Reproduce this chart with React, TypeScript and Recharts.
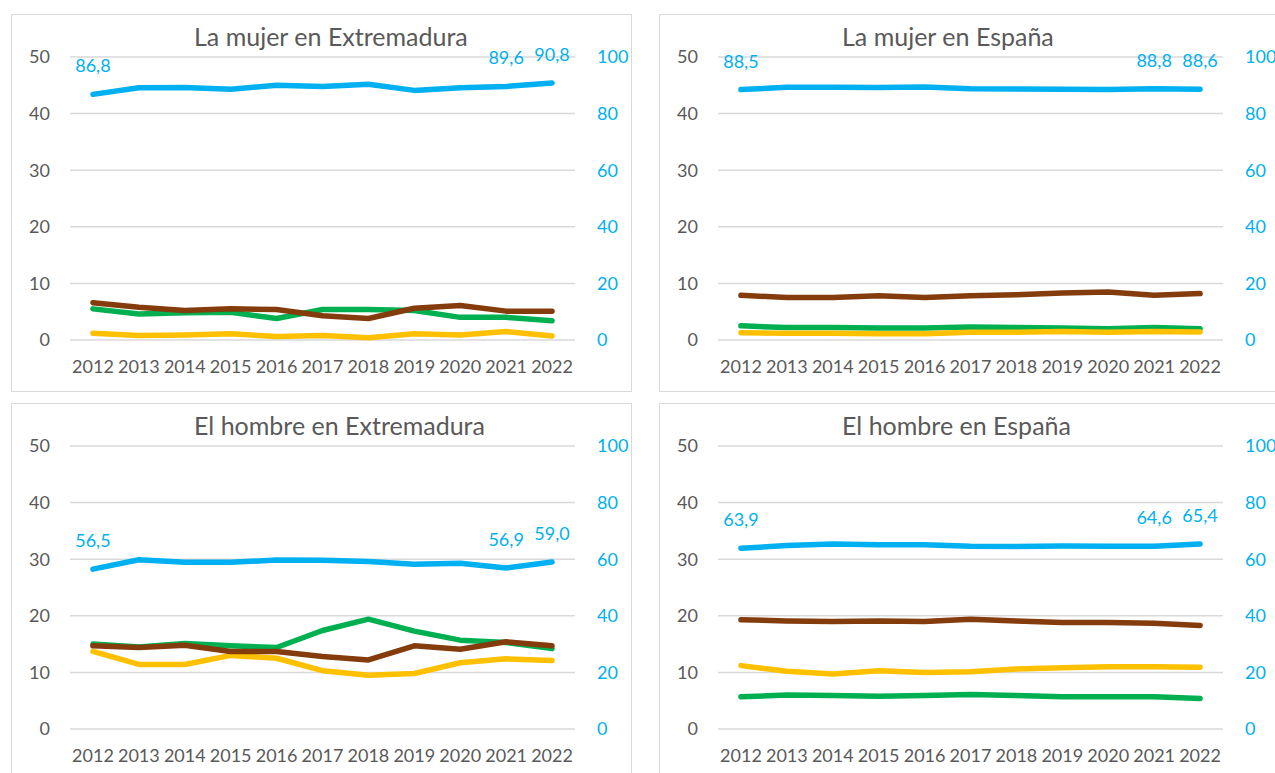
import { CartesianGrid, LabelList, Line, LineChart, XAxis, YAxis } from "recharts";

const YEARS = [2012, 2013, 2014, 2015, 2016, 2017, 2018, 2019, 2020, 2021, 2022];
const LABELED_YEARS = [2012, 2021, 2022];
const LEFT_TICKS = [0, 10, 20, 30, 40, 50];
const RIGHT_TICKS = [0, 20, 40, 60, 80, 100];

// La mujer en Extremadura
const MUJER_EXT_BLUE = [86.8, 89.1, 89.2, 88.6, 90.0, 89.6, 90.4, 88.2, 89.1, 89.6, 90.8];
const MUJER_EXT_BROWN = [6.6, 5.8, 5.2, 5.5, 5.4, 4.3, 3.8, 5.6, 6.1, 5.1, 5.1];
const MUJER_EXT_GREEN = [5.5, 4.6, 4.8, 4.9, 3.8, 5.4, 5.4, 5.2, 4.0, 4.0, 3.4];
const MUJER_EXT_YELLOW = [1.2, 0.8, 0.9, 1.1, 0.6, 0.8, 0.4, 1.1, 0.9, 1.5, 0.7];

// La mujer en España
const MUJER_ESP_BLUE = [88.5, 89.3, 89.3, 89.2, 89.4, 88.8, 88.7, 88.6, 88.5, 88.8, 88.6];
const MUJER_ESP_BROWN = [7.9, 7.5, 7.5, 7.8, 7.5, 7.8, 8.0, 8.3, 8.5, 7.9, 8.2];
const MUJER_ESP_GREEN = [2.5, 2.2, 2.2, 2.1, 2.1, 2.3, 2.2, 2.1, 2.0, 2.2, 2.0];
const MUJER_ESP_YELLOW = [1.3, 1.2, 1.2, 1.1, 1.1, 1.35, 1.35, 1.5, 1.35, 1.5, 1.4];

// El hombre en Extremadura
const HOMBRE_EXT_BLUE = [56.5, 59.8, 58.9, 58.9, 59.7, 59.6, 59.2, 58.2, 58.6, 56.9, 59.0];
const HOMBRE_EXT_BROWN = [14.7, 14.4, 14.8, 13.7, 13.7, 12.8, 12.2, 14.7, 14.1, 15.4, 14.7];
const HOMBRE_EXT_GREEN = [15.0, 14.5, 15.1, 14.7, 14.4, 17.4, 19.4, 17.3, 15.7, 15.3, 14.2];
const HOMBRE_EXT_YELLOW = [13.7, 11.4, 11.4, 13.0, 12.5, 10.3, 9.5, 9.8, 11.7, 12.4, 12.1];

// El hombre en España
const HOMBRE_ESP_BLUE = [63.9, 64.8, 65.4, 65.1, 65.1, 64.6, 64.5, 64.7, 64.6, 64.6, 65.4];
const HOMBRE_ESP_BROWN = [19.3, 19.1, 19.0, 19.1, 19.0, 19.4, 19.1, 18.8, 18.8, 18.7, 18.3];
const HOMBRE_ESP_GREEN = [5.7, 6.0, 5.9, 5.8, 5.9, 6.1, 5.9, 5.7, 5.7, 5.7, 5.4];
const HOMBRE_ESP_YELLOW = [11.2, 10.2, 9.7, 10.3, 10.0, 10.1, 10.6, 10.8, 11.0, 11.0, 10.9];

const BLUE = "#00b0f0";
const BROWN = "#843c0c";
const GREEN = "#00b050";
const YELLOW = "#ffc000";
const GRID = "#d9d9d9";
const TEXT = "#595959";
const FONT = "Lato, 'Noto Sans', sans-serif";

const PANEL_W = 621;
const PANEL_H = 378;

const PANELS = [
  { title: "La mujer en Extremadura", blue: MUJER_EXT_BLUE, brown: MUJER_EXT_BROWN, green: MUJER_EXT_GREEN, yellow: MUJER_EXT_YELLOW, left: 11, top: 14 },
  { title: "La mujer en España", blue: MUJER_ESP_BLUE, brown: MUJER_ESP_BROWN, green: MUJER_ESP_GREEN, yellow: MUJER_ESP_YELLOW, left: 659, top: 14 },
  { title: "El hombre en Extremadura", blue: HOMBRE_EXT_BLUE, brown: HOMBRE_EXT_BROWN, green: HOMBRE_EXT_GREEN, yellow: HOMBRE_EXT_YELLOW, left: 11, top: 403 },
  { title: "El hombre en España", blue: HOMBRE_ESP_BLUE, brown: HOMBRE_ESP_BROWN, green: HOMBRE_ESP_GREEN, yellow: HOMBRE_ESP_YELLOW, left: 659, top: 403 },
];

const comma = (value: unknown) => (typeof value === "number" ? value.toFixed(1).replace(".", ",") : "");

type PanelProps = (typeof PANELS)[number];

function Panel({ title, blue, brown, green, yellow, left, top }: PanelProps) {
  const data = YEARS.map((year, i) => ({
    year,
    blue: blue[i],
    brown: brown[i],
    green: green[i],
    yellow: yellow[i],
    label: LABELED_YEARS.includes(year) ? blue[i] : undefined,
  }));

  const lineProps = {
    yAxisId: "left",
    type: "linear" as const,
    strokeWidth: 5.5,
    strokeLinecap: "round" as const,
    strokeLinejoin: "round" as const,
    dot: false,
    activeDot: false,
    isAnimationActive: false,
  };

  return (
    <div style={{ position: "absolute", left, top, width: PANEL_W, height: PANEL_H }}>
      <div
        style={{
          position: "absolute",
          inset: 0,
          border: `1.5px solid ${GRID}`,
          boxSizing: "border-box",
        }}
      />
      <div
        style={{
          position: "absolute",
          left: 183,
          top: 7,
          fontFamily: FONT,
          fontSize: 25,
          color: TEXT,
          whiteSpace: "nowrap",
          lineHeight: "30px",
        }}
      >
        {title}
      </div>
      <LineChart
        width={PANEL_W}
        height={PANEL_H}
        data={data}
        margin={{ top: 43, right: 7, bottom: 12, left: 9 }}
        style={{ position: "absolute", left: 0, top: 0 }}
      >
        <CartesianGrid yAxisId="left" vertical={false} stroke={GRID} strokeWidth={1.5} />
        <XAxis
          dataKey="year"
          type="number"
          domain={[2011.5, 2022.5]}
          ticks={YEARS}
          interval={0}
          axisLine={false}
          tickLine={false}
          tickSize={0}
          tickMargin={20}
          height={40}
          tick={{ fontSize: 18, fill: TEXT, fontFamily: FONT }}
        />
        <YAxis
          yAxisId="left"
          domain={[0, 50]}
          ticks={LEFT_TICKS}
          axisLine={false}
          tickLine={false}
          tickSize={0}
          tickMargin={20}
          width={50}
          tick={{ fontSize: 18, fill: TEXT, fontFamily: FONT }}
        />
        <YAxis
          yAxisId="right"
          orientation="right"
          domain={[0, 100]}
          ticks={RIGHT_TICKS}
          axisLine={false}
          tickLine={false}
          tickSize={0}
          tickMargin={22}
          width={50}
          tick={{ fontSize: 18, fill: BLUE, fontFamily: FONT, textAnchor: "start" }}
        />
        <Line {...lineProps} dataKey="green" stroke={GREEN} />
        <Line {...lineProps} dataKey="yellow" stroke={YELLOW} />
        <Line {...lineProps} dataKey="brown" stroke={BROWN} />
        <Line {...lineProps} yAxisId="right" dataKey="blue" stroke={BLUE}>
          <LabelList
            dataKey="label"
            position="top"
            offset={22}
            formatter={comma}
            style={{ fontSize: 18, fill: BLUE, fontFamily: FONT }}
          />
        </Line>
      </LineChart>
    </div>
  );
}

export default function App() {
  return (
    <div
      style={{
        position: "absolute",
        left: 0,
        top: 0,
        width: 1275,
        height: 773,
        overflow: "hidden",
        background: "#ffffff",
      }}
    >
      {PANELS.map((panel) => (
        <Panel key={panel.title} {...panel} />
      ))}
    </div>
  );
}
